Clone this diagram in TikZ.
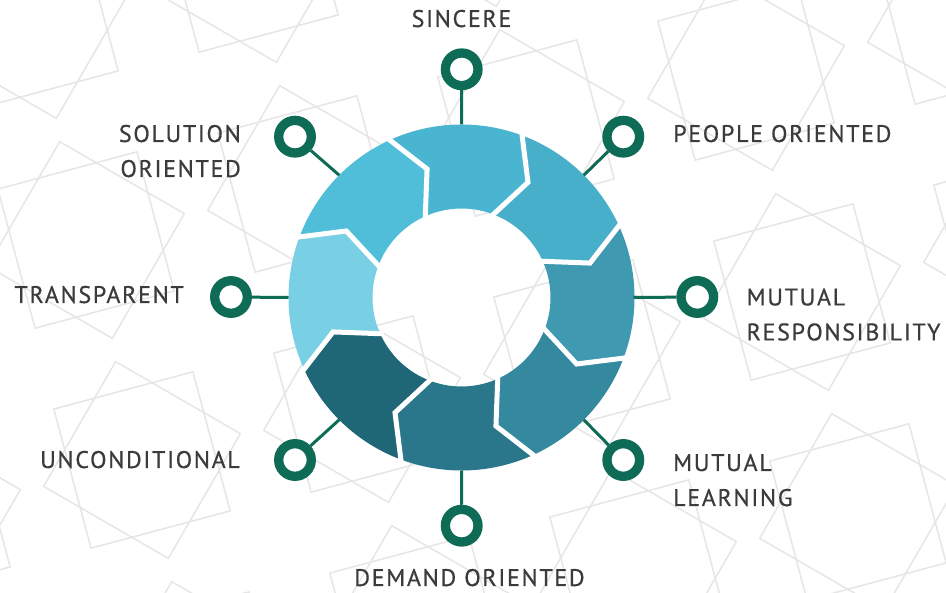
\documentclass[tikz,border=0pt]{standalone}
\usepackage{fontspec}
\setmainfont{PT Sans}
\newfontfamily\lblfont{PT Sans}[LetterSpace=7, FakeBold=0.6]
\definecolor{ringgreen}{HTML}{0E6B56}
\definecolor{txt}{HTML}{3B3B3B}
\definecolor{bgl}{HTML}{E6E6E6}
\definecolor{cA}{HTML}{4AB5D1}
\definecolor{cB}{HTML}{48AFCB}
\definecolor{cC}{HTML}{3E99B1}
\definecolor{cD}{HTML}{35899E}
\definecolor{cE}{HTML}{2A778B}
\definecolor{cF}{HTML}{1F6677}
\definecolor{cG}{HTML}{79CFE3}
\definecolor{cH}{HTML}{50BED9}
\tikzset{
  bgline/.style={draw=bgl, line width=1.5pt},
  dot/.style={circle, draw=ringgreen, line width=9.3pt, fill=white, minimum size=32.6pt, inner sep=0pt},
  stem/.style={draw=ringgreen, line width=3pt},
  gap/.style={draw=white, line width=5pt, line join=miter},
  lbl/.style={text=txt, inner sep=0pt, font=\lblfont\fontsize{24}{35}\selectfont}
}
\begin{document}
\begin{tikzpicture}[x=1pt,y=-1pt]
\useasboundingbox (0,0) rectangle (946,593);
\fill[white] (0,0) rectangle (946,593);
% background lattice
\begin{scope}
\clip (0,0) rectangle (946,593);
\foreach \i in {-2,...,7}{
  \foreach \j in {-2,...,5}{
    \begin{scope}[shift={(\i*220+\j*56+30, \j*220-\i*56+20)}]
      \draw[bgline, rotate=15] (-72,-72) -- (72,-72) -- (72,72) -- (-72,72) -- cycle;
      \draw[bgline, rotate=60] (-72,-72) -- (72,-72) -- (72,72) -- (-72,72) -- cycle;
    \end{scope}
  }
}
\end{scope}
% ring segments
\begin{scope}[shift={(461.5,297.5)}]
  \foreach \a/\c [evaluate=\a as \b using \a-45, evaluate=\a as \t using \a-10, evaluate=\a as \u using \a-55] in
    {115/cA, 70/cB, 25/cC, -20/cD, -65/cE, -110/cF, -155/cG, -200/cH}{
    \fill[\c] (\a:173pt) arc[start angle=\a, end angle=\b, radius=173pt]
      -- (\u:133pt) -- (\b:89pt) arc[start angle=\b, end angle=\a, radius=89pt]
      -- (\t:133pt) -- cycle;
  }
  \foreach \a [evaluate=\a as \t using \a-10] in {115, 70, 25, -20, -65, -110, -155, -200}{
    \draw[gap] (\a:176pt) -- (\t:133pt) -- (\a:86pt);
  }
  \coordinate (e1) at (90:173pt);
  \coordinate (e2) at (45:173pt);
  \coordinate (e3) at (0:172pt);
  \coordinate (e4) at (-45:173pt);
  \coordinate (e5) at (-90:173pt);
  \coordinate (e6) at (-135:173pt);
  \coordinate (e7) at (180:173pt);
  \coordinate (e8) at (135:173pt);
\end{scope}
% connector circles
\node[dot] (c1) at (461.7,69.3) {};
\node[dot] (c2) at (623.3,136.7) {};
\node[dot] (c3) at (697.3,297) {};
\node[dot] (c4) at (623.3,460) {};
\node[dot] (c5) at (461.7,525.7) {};
\node[dot] (c6) at (295,460) {};
\node[dot] (c7) at (231,297) {};
\node[dot] (c8) at (295,136.7) {};
\foreach \k in {1,...,8}{ \draw[stem] (c\k) -- (e\k); }
% labels
\node[lbl, anchor=base] (t1) at (461.5,27) {SINCERE};
\node[lbl, anchor=base west] (t2) at (673,142) {PEOPLE ORIENTED};
\node[lbl, anchor=base west, align=left] (t3) at (746.5,340.4) {MUTUAL\\RESPONSIBILITY};
\node[lbl, anchor=base west, align=left] (t4) at (673,506) {MUTUAL\\LEARNING};
\node[lbl, anchor=base] (t5) at (469.5,586) {DEMAND ORIENTED};
\node[lbl, anchor=base east] (t6) at (240,468) {UNCONDITIONAL};
\node[lbl, anchor=base east] (t7) at (184,303) {TRANSPARENT};
\node[lbl, anchor=base east, align=right] (t8) at (241,177) {SOLUTION\\ORIENTED};
\end{tikzpicture}
\end{document}
